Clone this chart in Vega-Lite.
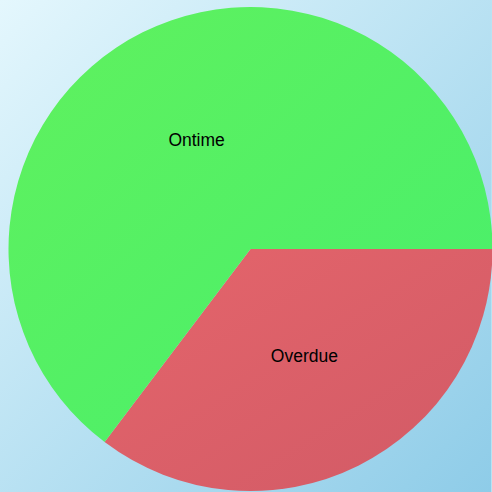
{
  "$schema": "https://vega.github.io/schema/vega-lite/v6.json",
  "width": 492,
  "height": 492,
  "autosize": {"type": "fit", "contains": "padding"},
  "padding": 0,
  "background": "#b8e3f3",
  "view": {
    "stroke": null,
    "fill": {"gradient": "linear", "x1": 0, "y1": 0, "x2": 1, "y2": 1,
      "stops": [{"offset": 0, "color": "#e4f7fd"}, {"offset": 1, "color": "#8ecce8"}]}
  },
  "data": {"values": [
    {"status": "Overdue", "value": 35.3, "ord": 1},
    {"status": "Ontime", "value": 64.7, "ord": 2}
  ]},
  "encoding": {
    "theta": {"field": "value", "type": "quantitative", "stack": true,
      "scale": {"range": [1.5707963, 7.8539816]}},
    "order": {"field": "ord", "type": "quantitative"}
  },
  "layer": [
    {
      "mark": {"type": "arc", "outerRadius": 242, "xOffset": 5, "yOffset": 3},
      "encoding": {
        "fill": {
          "condition": {"test": "datum.status === 'Ontime'",
            "value": {"gradient": "linear", "x1": 0, "y1": 0, "x2": 1, "y2": 1,
              "stops": [{"offset": 0, "color": "#60f15e"}, {"offset": 1, "color": "#47ef6c"}]}},
          "value": {"gradient": "linear", "x1": 0, "y1": 0, "x2": 1, "y2": 1,
            "stops": [{"offset": 0, "color": "#e5656b"}, {"offset": 1, "color": "#d15a66"}]}
        }
      }
    },
    {
      "mark": {"type": "text", "radius": 121, "xOffset": 5, "yOffset": 3,
        "font": "Liberation Sans", "fontSize": 17.5, "fill": "#000000"},
      "encoding": {"text": {"field": "status", "type": "nominal"}}
    }
  ]
}
